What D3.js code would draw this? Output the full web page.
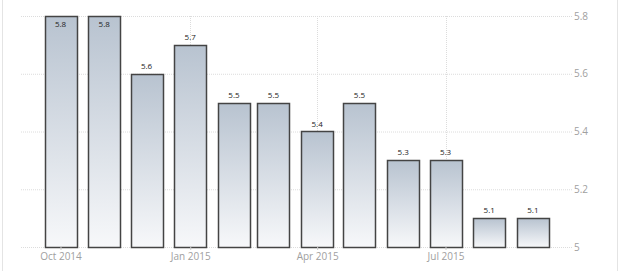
<!DOCTYPE html>
<html>
<head>
<meta charset="utf-8">
<script src="https://cdn.jsdelivr.net/npm/d3@7"></script>
<style>
  body { margin: 0; background: #fff; }
  svg { display: block; font-family: "Open Sans", "DejaVu Sans", sans-serif; }
</style>
</head>
<body>
<svg id="chart" width="618" height="271"></svg>
<script>
// monthly values, Oct 2014 .. Sep 2015
var months = ["2014-10-01", "2014-11-01", "2014-12-01", "2015-01-01", "2015-02-01", "2015-03-01",
              "2015-04-01", "2015-05-01", "2015-06-01", "2015-07-01", "2015-08-01", "2015-09-01"];
var values = [5.8, 5.8, 5.6, 5.7, 5.5, 5.5, 5.4, 5.5, 5.3, 5.3, 5.1, 5.1];
var yTicks = [5, 5.2, 5.4, 5.6, 5.8];
var xTicks = ["2014-10-01", "2015-01-01", "2015-04-01", "2015-07-01"];

var parse = d3.timeParse( "%Y-%m-%d" );
var data = months.map( function( m, i ) { return { date: parse( m ), value: values[i] }; });

var svg = d3.select( "#chart" );
var gridLeft = 20, gridRight = 572;
var plotTop = 16, plotBottom = 247;
var barW = 32;

var x = d3.scaleTime()
    .domain( [ parse( "2014-10-01" ), parse( "2015-07-01" ) ] )
    .range( [ 60.5, 445.5 ] );
var y = d3.scaleLinear()
    .domain( [ 5, 5.8 ] )
    .range( [ plotBottom, plotTop ] );

// frame lines left and right
svg.append( "line" ).attr( "x1", 2.5 ).attr( "x2", 2.5 ).attr( "y1", 0 ).attr( "y2", 271 )
  .attr( "stroke", "#e4e4e4" ).attr( "stroke-width", 1 );
svg.append( "line" ).attr( "x1", 617.5 ).attr( "x2", 617.5 ).attr( "y1", 0 ).attr( "y2", 271 )
  .attr( "stroke", "#e4e4e4" ).attr( "stroke-width", 1 );

var defs = svg.append( "defs" );
var grad = defs.append( "linearGradient" )
    .attr( "id", "barfill" )
    .attr( "x1", 0 ).attr( "y1", 0 ).attr( "x2", 0 ).attr( "y2", 1 );
grad.append( "stop" ).attr( "offset", "0%" ).attr( "stop-color", "#b8c3d0" );
grad.append( "stop" ).attr( "offset", "100%" ).attr( "stop-color", "#f7f8fa" );

// horizontal grid + right labels
var yAxis = d3.axisRight( y )
    .tickValues( yTicks )
    .tickSize( gridLeft - gridRight )
    .tickFormat( d3.format( "~g" ) )
    .tickPadding( 2 );
var gy = svg.append( "g" )
    .attr( "transform", "translate(" + gridRight + ",0)" )
    .call( yAxis );
gy.select( ".domain" ).remove();
gy.selectAll( ".tick line" )
  .attr( "stroke", "#dcdcdc" )
  .attr( "stroke-dasharray", "1,1" );
gy.selectAll( ".tick text" )
  .attr( "x", 2 )
  .attr( "fill", "#a0a0a0" )
  .style( "font-size", "10px" )
  .style( "font-family", "\"Open Sans\", \"DejaVu Sans\", sans-serif" );

// vertical grid lines at x ticks
var xt = xTicks.map( parse );
svg.append( "g" ).selectAll( "line" )
  .data( xt ).enter().append( "line" )
  .attr( "x1", function( d ) { return Math.round( x( d ) ) + 0.5; } )
  .attr( "x2", function( d ) { return Math.round( x( d ) ) + 0.5; } )
  .attr( "y1", plotTop ).attr( "y2", plotBottom )
  .attr( "stroke", "#dcdcdc" )
  .attr( "stroke-dasharray", "1,1" );

// bars
svg.append( "g" ).selectAll( "rect" )
  .data( data ).enter().append( "rect" )
  .attr( "x", function( d ) { return Math.round( x( d.date ) - barW / 2 ) + 0.5; } )
  .attr( "y", function( d ) { return Math.round( y( d.value ) ) + 0.5; } )
  .attr( "width", barW )
  .attr( "height", function( d ) { return Math.round( plotBottom - y( d.value ) ); } )
  .attr( "fill", "url(#barfill)" )
  .attr( "stroke", "#444" )
  .attr( "stroke-width", 1.5 );

// value labels (pushed inside the bar when there's no room above)
svg.append( "g" ).selectAll( "text" )
  .data( data ).enter().append( "text" )
  .attr( "x", function( d ) { return x( d.date ); } )
  .attr( "y", function( d ) {
      var t = y( d.value );
      return t - 14 < plotTop ? t + 11 : t - 5;
  } )
  .attr( "text-anchor", "middle" )
  .attr( "fill", "#222" )
  .style( "font-size", "8px" )
  .text( function( d ) { return d3.format( ".1f" )( d.value ); } );

// x axis labels
var xAxis = d3.axisBottom( x )
    .tickValues( xt )
    .tickSize( 3 )
    .tickFormat( d3.timeFormat( "%b %Y" ) );
var gx = svg.append( "g" )
    .attr( "transform", "translate(0," + plotBottom + ")" )
    .call( xAxis );
gx.select( ".domain" ).remove();
gx.selectAll( ".tick line" ).attr( "stroke", "#cccccc" );
gx.selectAll( ".tick text" )
  .attr( "fill", "#a0a0a0" )
  .attr( "y", 6 )
  .style( "font-size", "10px" )
  .style( "font-family", "\"Open Sans\", \"DejaVu Sans\", sans-serif" );
</script>
</body>
</html>
